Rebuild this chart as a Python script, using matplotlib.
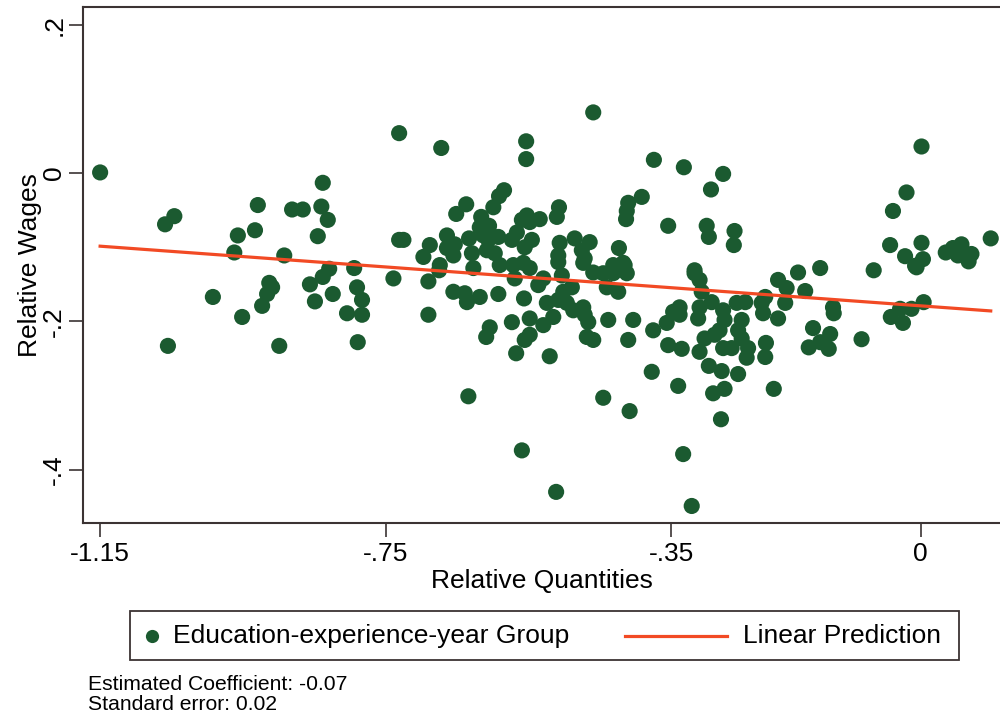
import numpy as np
import matplotlib
matplotlib.use('Agg')
import matplotlib.pyplot as plt
from matplotlib.patches import Rectangle
from matplotlib.lines import Line2D

plt.rcParams['font.family'] = ['Liberation Sans', 'DejaVu Sans']

# relative quantities / relative wages per education-experience-year group
rel_qty = [
    -1.150, -1.046, -1.059, -0.929, -0.957, -0.933, -0.962, -0.881, -0.866, -0.838,
    -0.840, -0.831, -0.845, -0.892, -0.829, -0.838, -0.856, -0.794, -0.790, -0.783,
    -0.783, -0.804, -0.824, -0.849, -0.739, -0.731, -0.913, -0.916, -0.923, -0.992,
    -0.951, -1.055, -0.899, -0.789, -0.731, -0.909,
    -0.672, -0.553, -0.553, -0.459, -0.374, -0.332, -0.277, -0.294, -0.391, -0.410,
    -0.412, -0.413, -0.354, -0.300, -0.297, -0.261, -0.262, -0.584, -0.591, -0.599,
    -0.637, -0.651, -0.616, -0.605, -0.507, -0.510,
    -0.725, -0.688, -0.697, -0.664, -0.664, -0.653, -0.655, -0.633, -0.629, -0.613,
    -0.606, -0.608, -0.592, -0.597, -0.566, -0.559, -0.552, -0.548, -0.534, -0.545,
    -0.555, -0.506, -0.508, -0.485, -0.464, -0.475, -0.471, -0.674, -0.590, -0.571,
    -0.557, -0.423, -0.431, -0.417, -0.317, -0.606, -0.573, -0.618,
    -0.675, -0.690, -0.690, -0.655, -0.639, -0.636, -0.618, -0.627, -0.592, -0.548,
    -0.569, -0.556, -0.536, -0.529, -0.524, -0.508, -0.503, -0.508, -0.501, -0.489,
    -0.496, -0.487, -0.473, -0.471, -0.466, -0.473, -0.459, -0.445, -0.431, -0.415,
    -0.412, -0.440, -0.424, -0.515, -0.529, -0.548, -0.573, -0.604, -0.609, -0.548,
    -0.555, -0.567, -0.520, -0.468, -0.459, -0.438, -0.403, -0.410, -0.375, -0.356,
    -0.354, -0.335, -0.347, -0.338, -0.317, -0.310, -0.307, -0.310, -0.312, -0.293,
    -0.303, -0.289, -0.277, -0.275, -0.282, -0.277, -0.265, -0.258, -0.246, -0.251,
    -0.256, -0.251, -0.242, -0.244, -0.223, -0.218, -0.221, -0.200, -0.200, -0.188,
    -0.190, -0.217, -0.218, -0.172, -0.310, -0.297, -0.279, -0.256, -0.291, -0.275,
    -0.280, -0.206, -0.377, -0.340, -0.634, -0.445, -0.408, -0.559, -0.333, -0.511,
    -0.321,
    -0.338, -0.162, -0.123, -0.122, -0.151, -0.157, -0.141, -0.127, -0.129, -0.083,
    -0.066, -0.042, -0.025, -0.029, -0.013, 0.004, -0.006, 0.001, -0.020, -0.039,
    -0.043, -0.022, 0.001, 0.003, -0.008, 0.035, 0.045, 0.057, 0.052, 0.071,
    0.067, 0.098, -0.141,
]
rel_wage = [
    0.001, -0.058, -0.069, -0.043, -0.084, -0.077, -0.107, -0.049, -0.049, -0.013,
    -0.045, -0.063, -0.085, -0.111, -0.129, -0.140, -0.150, -0.128, -0.154, -0.171,
    -0.191, -0.189, -0.163, -0.173, -0.142, -0.090, -0.148, -0.163, -0.179, -0.167,
    -0.194, -0.233, -0.233, -0.228, 0.054, -0.154,
    0.034, 0.043, 0.019, 0.082, 0.018, 0.008, -0.001, -0.022, -0.032, -0.040,
    -0.051, -0.062, -0.071, -0.071, -0.086, -0.078, -0.097, -0.023, -0.031, -0.046,
    -0.042, -0.055, -0.059, -0.071, -0.046, -0.059,
    -0.090, -0.097, -0.113, -0.084, -0.101, -0.096, -0.111, -0.088, -0.108, -0.084,
    -0.090, -0.104, -0.086, -0.108, -0.080, -0.063, -0.057, -0.066, -0.062, -0.090,
    -0.100, -0.094, -0.111, -0.088, -0.093, -0.104, -0.115, -0.124, -0.124, -0.124,
    -0.121, -0.101, -0.124, -0.121, -0.131, -0.077, -0.090, -0.073,
    -0.131, -0.146, -0.191, -0.160, -0.162, -0.174, -0.167, -0.128, -0.163, -0.128,
    -0.142, -0.169, -0.151, -0.142, -0.175, -0.171, -0.138, -0.120, -0.160, -0.154,
    -0.175, -0.185, -0.181, -0.191, -0.201, -0.121, -0.134, -0.135, -0.135, -0.124,
    -0.135, -0.154, -0.160, -0.194, -0.205, -0.196, -0.201, -0.208, -0.221, -0.218,
    -0.225, -0.243, -0.247, -0.221, -0.225, -0.198, -0.198, -0.225, -0.212, -0.202,
    -0.232, -0.237, -0.187, -0.181, -0.135, -0.144, -0.160, -0.181, -0.196, -0.174,
    -0.223, -0.218, -0.185, -0.198, -0.212, -0.236, -0.236, -0.175, -0.174, -0.198,
    -0.212, -0.223, -0.236, -0.249, -0.175, -0.167, -0.189, -0.196, -0.144, -0.155,
    -0.175, -0.229, -0.248, -0.134, -0.241, -0.260, -0.267, -0.271, -0.297, -0.291,
    -0.332, -0.291, -0.268, -0.287, -0.301, -0.303, -0.321, -0.374, -0.379, -0.430,
    -0.449,
    -0.191, -0.159, -0.181, -0.189, -0.209, -0.235, -0.228, -0.217, -0.237, -0.224,
    -0.131, -0.194, -0.202, -0.183, -0.183, -0.174, -0.127, 0.036, -0.026, -0.051,
    -0.097, -0.112, -0.094, -0.116, -0.125, -0.107, -0.101, -0.096, -0.111, -0.109,
    -0.119, -0.088, -0.128,
]

# fitted line
coef = -0.07
intercept = -0.179

xticks = [-1.15, -0.75, -0.35, 0]
xtick_labels = ['-1.15', '-.75', '-.35', '0']
yticks = [-0.4, -0.2, 0, 0.2]
ytick_labels = ['-.4', '-.2', '0', '.2']

green = '#1b5a30'
orange = '#f24a24'
dark = '#3b3333'

fig = plt.figure(figsize=(10, 7.15), dpi=100)
ax = fig.add_axes([0.083, 0.2685, 0.917, 0.7215])

ax.scatter(rel_qty, rel_wage, s=135, color=green, edgecolors='none', zorder=2)

xs = np.array([min(rel_qty), max(rel_qty)])
ax.plot(xs, intercept + coef * xs, color=orange, lw=2.3, zorder=3)

ax.set_xlim(-1.174, 0.111)
ax.set_ylim(-0.472, 0.224)
ax.set_xticks(xticks)
ax.set_xticklabels(xtick_labels, fontsize=19)
ax.set_yticks(yticks)
ax.set_yticklabels(ytick_labels, fontsize=19, rotation=90, va='center')
ax.tick_params(direction='out', length=10, width=1.2, color=dark)
ax.tick_params(axis='y', pad=2)
for side in ['left', 'bottom', 'top']:
    ax.spines[side].set_color(dark)
    ax.spines[side].set_linewidth(1.5)
ax.spines['right'].set_visible(False)

ax.set_xlabel('Relative Quantities', fontsize=19, labelpad=2)
ax.set_ylabel('Relative Wages', fontsize=19, labelpad=0)

# legend box drawn in figure coordinates
fig.patches.append(Rectangle((0.130, 0.077), 0.829, 0.069, transform=fig.transFigure,
                             fill=False, edgecolor=dark, lw=1.3))
fig.lines.append(Line2D([0.152], [0.1105], transform=fig.transFigure, marker='o',
                        markersize=9.5, color=green, markeredgecolor='none', ls='none'))
fig.text(0.173, 0.1105, 'Education-experience-year Group', fontsize=19, va='center')
fig.lines.append(Line2D([0.625, 0.727], [0.1105, 0.1105], transform=fig.transFigure,
                        color=orange, lw=2.3))
fig.text(0.743, 0.1105, 'Linear Prediction', fontsize=19, va='center')

fig.text(0.088, 0.042, 'Estimated Coefficient: -0.07', fontsize=15.2, va='center')
fig.text(0.088, 0.015, 'Standard error: 0.02', fontsize=15.2, va='center')

fig.savefig('out.png', dpi=100, facecolor='white')
